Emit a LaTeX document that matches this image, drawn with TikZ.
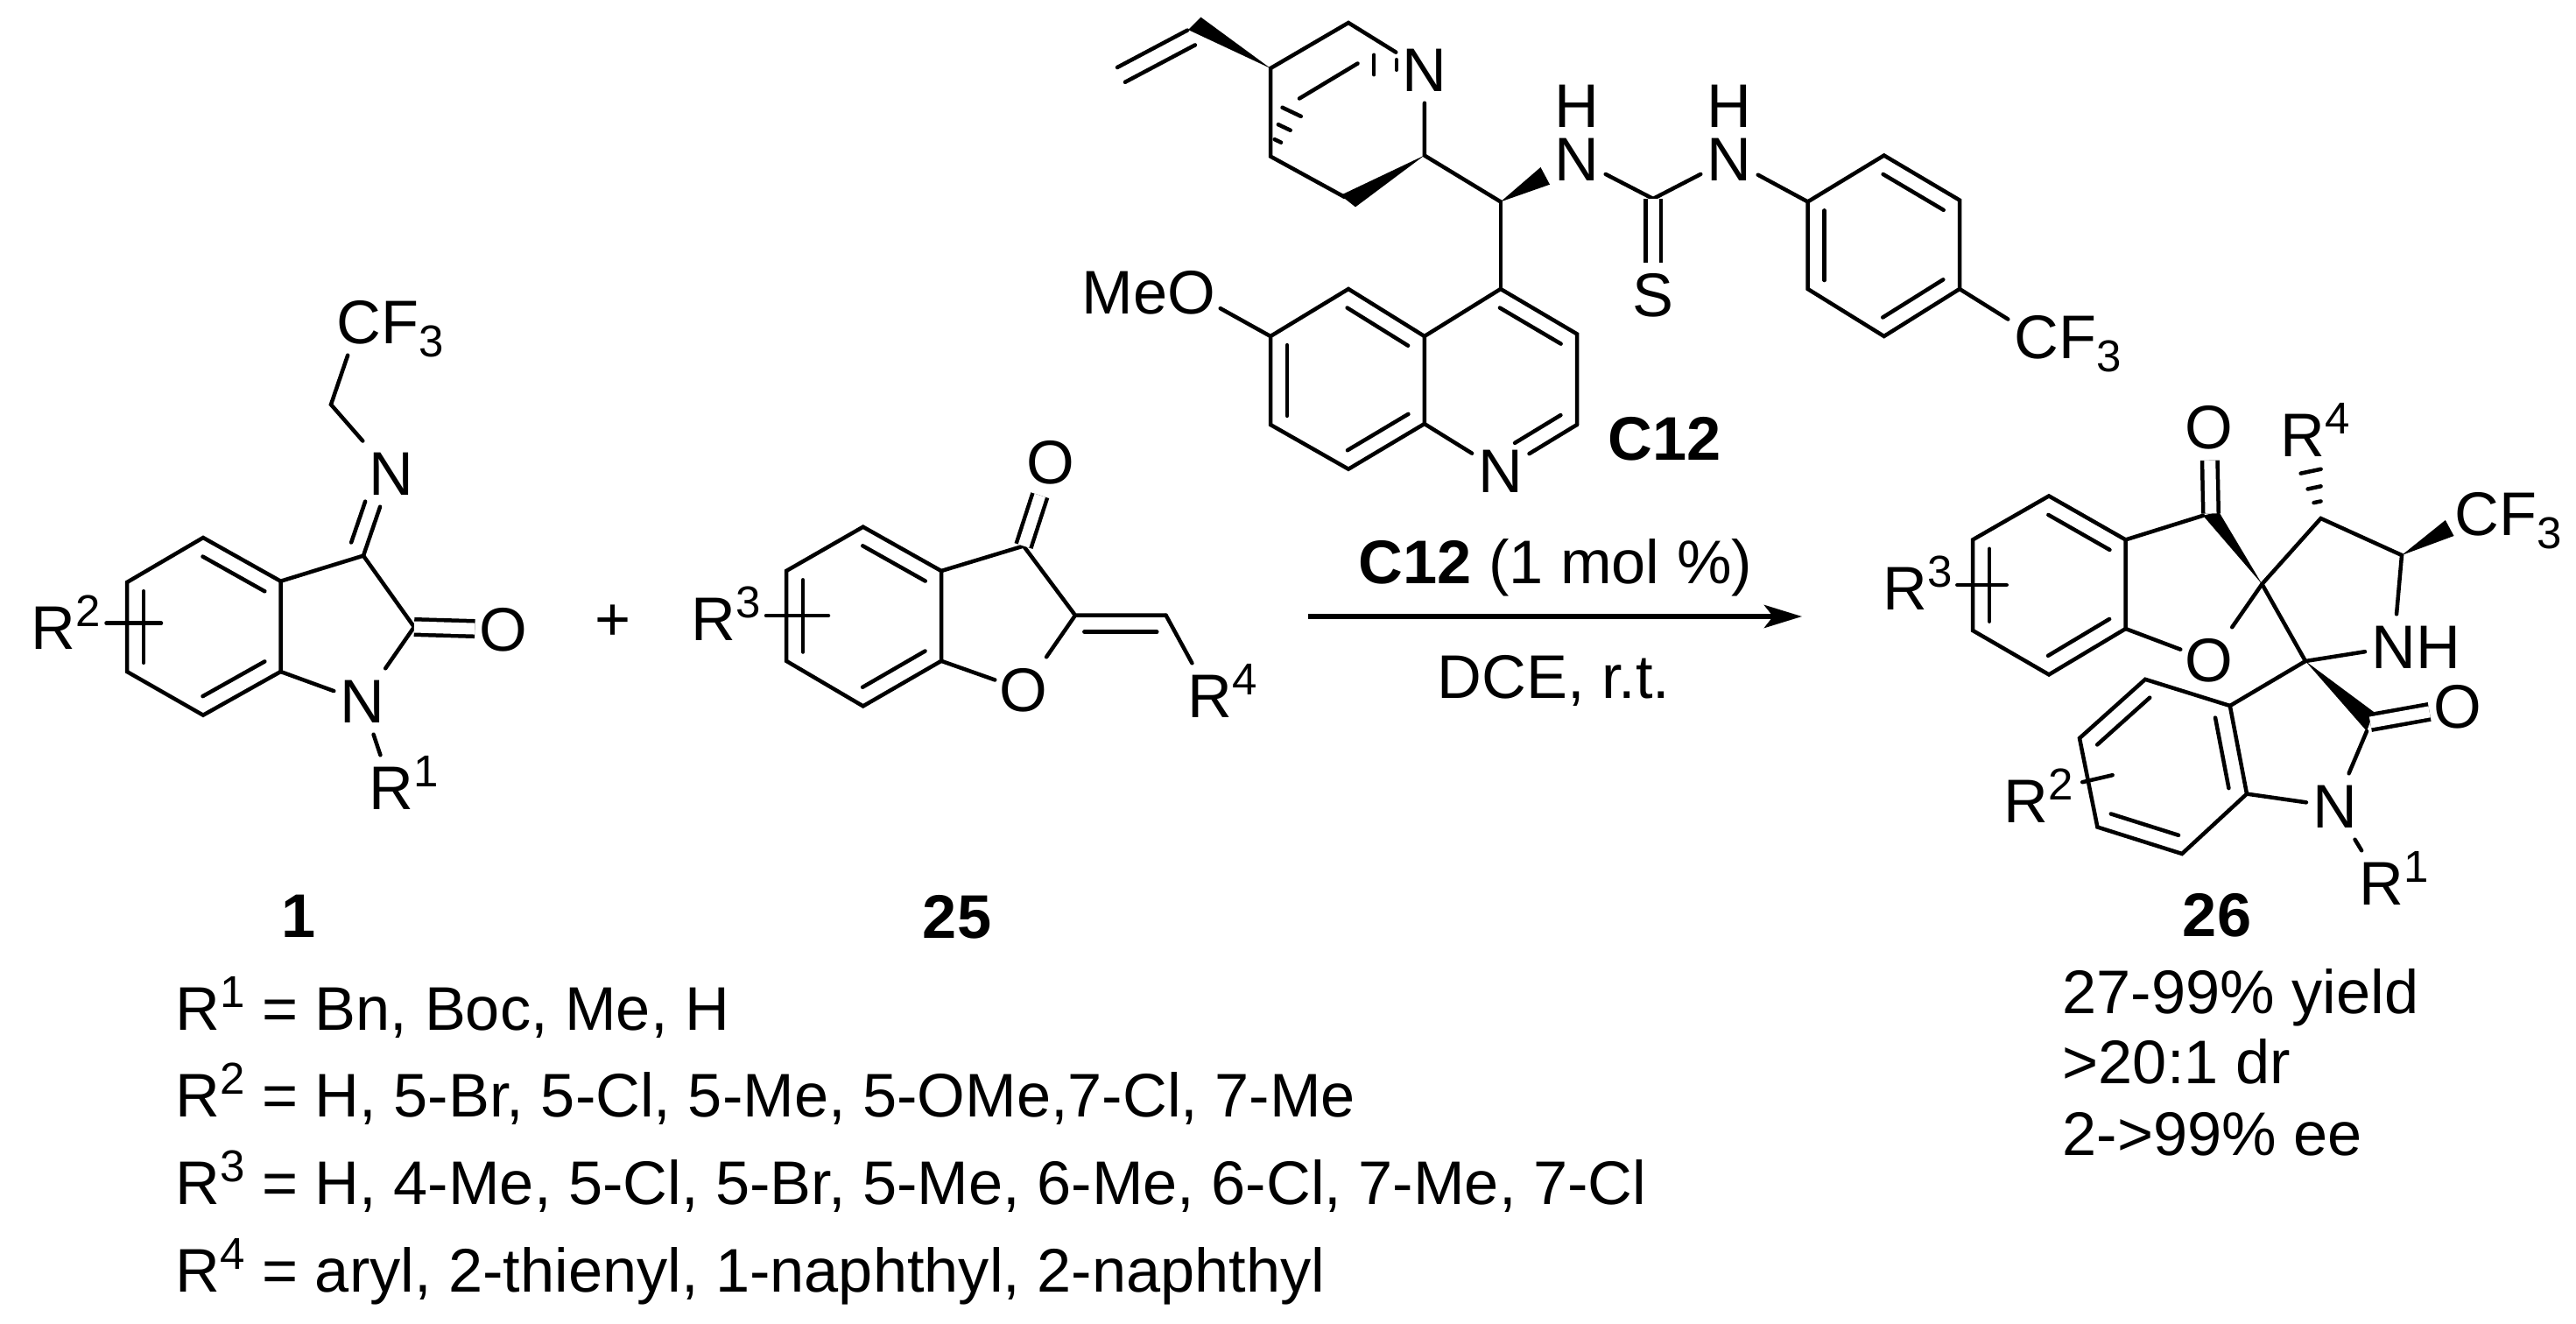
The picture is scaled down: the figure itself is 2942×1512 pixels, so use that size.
\documentclass[tikz,border=0pt]{standalone}
\usepackage{fontspec}
\setmainfont{Liberation Sans}
\usetikzlibrary{calc}
\usetikzlibrary{arrows.meta}
\newcommand{\supfont}{\fontsize{14.5}{16}\selectfont}
\newcommand{\rs}[1]{\smash{\raisebox{.26cm}{\supfont #1}}}
\newcommand{\Ra}[1]{R\rlap{\rs{#1}}}
\newcommand{\cfthree}{C\rlap{F\smash{\raisebox{-.15cm}{\supfont 3}}}}
\newcommand{\inbond}[5]{\draw[bond] ($(#1)!#4!(#2)!#3!90:(#2)$) -- ($(#2)!#5!(#1)!-#3!90:(#1)$);}
\newcommand{\ringbond}[2]{\inbond{#1}{#2}{.19cm}{.1}{.1}}
\newcommand{\hashbond}[3]{\foreach \f in {#3}{\pgfmathsetmacro{\w}{\f*.17}\draw[bond] ($(#1)!\f!(#2)!\w cm!90:(#2)$) -- ($(#1)!\f!(#2)!-\w cm!90:(#2)$);}}
\tikzset{
  bond/.style={line width=.045cm,line cap=round,line join=miter},
  dbond/.style={line width=.045cm,double,double distance=.13cm,line cap=butt},
  atom/.style={inner sep=0,minimum width=.64cm,minimum height=.74cm,font=\fontsize{20}{22}\selectfont},
  txt/.style={inner sep=0,anchor=base west,font=\fontsize{20}{22}\selectfont},
  cmpd/.style={inner sep=0,anchor=base,font=\fontsize{20}{22}\selectfont\bfseries},
  rxn/.style={line width=.06cm,-{Stealth[length=.43cm,width=.26cm,inset=.1cm]}}
}
\begin{document}
\begin{tikzpicture}[x=0.01cm,y=-0.01cm]
\useasboundingbox (0,0) rectangle (2942,1512);

\coordinate (iA) at (232,614);
\coordinate (iB) at (320.5,663.7);
\coordinate (iC) at (320.5,767);
\coordinate (iD) at (232,816.7);
\coordinate (iE) at (145,767);
\coordinate (iF) at (145,665);
\coordinate (iThree) at (415,634.6);
\coordinate (iTwo) at (473,716);
\coordinate (iCH) at (378,462);
\coordinate (iSubA) at (121.5,711.6);
\coordinate (iSubB) at (184,711.6);
\node[atom] (iN) at (414,801) {N};
\node[atom] (iO) at (575,719) {O};
\node[atom] (iIm) at (447,541) {N};
\node[atom] (iCF) at (410,368) {\cfthree};
\node[atom] (iRa) at (447,900) {\Ra{1}};
\node[atom] (iRb) at (61,717) {\Ra{2}};
\draw[bond] (iA) -- (iB) -- (iC) -- (iD) -- (iE) -- (iF) -- cycle;
\ringbond{iB}{iA}
\ringbond{iD}{iC}
\ringbond{iF}{iE}
\draw[bond] (iSubA) -- (iSubB);
\draw[bond] (iB) -- (iThree) -- (iTwo);
\draw[bond] (iTwo) -- (iN);
\draw[bond] (iC) -- (iN);
\draw[bond] (iN) -- (iRa);
\draw[dbond] (iTwo) -- (iO);
\draw[bond] (iThree) -- (iIm);
\inbond{iThree}{iIm}{.18cm}{.1}{.4}
\draw[bond] (iIm) -- (iCH) -- (iCF);
\node[cmpd] (cmpdOne) at (341,1070) {1};
\node[txt,anchor=center] (plus) at (700,711.5) {+};

\coordinate (bA) at (985.7,601.7);
\coordinate (bB) at (1075,652);
\coordinate (bC) at (1075,754.8);
\coordinate (bD) at (985.7,806.4);
\coordinate (bE) at (898,754.8);
\coordinate (bF) at (898,652);
\coordinate (bThree) at (1169,623.5);
\coordinate (bTwo) at (1228,702.7);
\coordinate (bCH) at (1331.6,702.7);
\coordinate (bSubA) at (875,703);
\coordinate (bSubB) at (946,703);
\node[atom] (bO) at (1169,788) {O};
\node[atom] (bK) at (1200,528) {O};
\node[atom] (bRd) at (1382,795) {\Ra{4}};
\node[atom] (bRc) at (815,707) {\Ra{3}};
\draw[bond] (bA) -- (bB) -- (bC) -- (bD) -- (bE) -- (bF) -- cycle;
\ringbond{bB}{bA}
\ringbond{bD}{bC}
\ringbond{bF}{bE}
\draw[bond] (bSubA) -- (bSubB);
\draw[bond] (bB) -- (bThree) -- (bTwo) -- (bCH);
\ringbond{bCH}{bTwo}
\draw[bond] (bTwo) -- (bO);
\draw[bond] (bC) -- (bO);
\draw[bond] (bCH) -- (bRd);
\draw[dbond] (bThree) -- (bK);
\node[cmpd] (cmpdTwo) at (1093,1071) {25};

\coordinate (qV) at (1451,78);
\coordinate (qT) at (1540,26);
\coordinate (qL) at (1451,178.6);
\coordinate (qW) at (1535.6,225);
\coordinate (qWa) at (1531,223);
\coordinate (qWb) at (1548,236.4);
\coordinate (qTwo) at (1626.8,177.5);
\coordinate (qX) at (1484,112.5);
\coordinate (qY) at (1550.5,72.5);
\coordinate (qH) at (1486,105);
\coordinate (qTip) at (1622,74);
\coordinate (qEnd) at (1542,74);
\coordinate (vA) at (1356,34.6);
\coordinate (vB) at (1276,77);
\coordinate (vWa) at (1371.4,19.6);
\coordinate (vWb) at (1357,34);
\coordinate (qCH) at (1713.8,230.4);
\coordinate (nWa) at (1759.5,191);
\coordinate (nWb) at (1770,210.7);
\coordinate (tC) at (1888,227);
\node[atom] (qN) at (1627,80) {N};
\node[atom,minimum height=.62cm] (tNa) at (1801,182) {N};
\node[txt,anchor=center] (tHa) at (1801,121) {H};
\node[atom,minimum height=.62cm] (tNb) at (1975,182) {N};
\node[txt,anchor=center] (tHb) at (1975,121) {H};
\node[atom] (tS) at (1888,337.5) {S};
\draw[bond] (vB) -- (vA);
\inbond{vA}{vB}{.19cm}{0}{0}
\fill (qV) -- (vWa) -- (vWb) -- cycle;
\draw[bond] (qN) -- (qT) -- (qV) -- (qL) -- (qW);
\fill (qTwo) -- (qWa) -- (qWb) -- cycle;
\draw[bond] (qX) -- (qY);
\hashbond{qL}{qH}{.24,.45,.69}
\hashbond{qTip}{qEnd}{.34,.66}
\draw[bond] (qN) -- (qTwo) -- (qCH);
\fill (qCH) -- (nWa) -- (nWb) -- cycle;
\draw[bond] (tNa) -- (tC) -- (tNb);
\draw[dbond] (tC) -- (tS);

\coordinate (yA) at (2151.7,177.5);
\coordinate (yB) at (2238,228.6);
\coordinate (yC) at (2238,330);
\coordinate (yD) at (2151.7,384);
\coordinate (yE) at (2064.6,330);
\coordinate (yF) at (2064.6,230.4);
\node[atom] (yCF) at (2326,385) {\cfthree};
\draw[bond] (yA) -- (yB) -- (yC) -- (yD) -- (yE) -- (yF) -- cycle;
\ringbond{yB}{yA}
\ringbond{yD}{yC}
\ringbond{yF}{yE}
\draw[bond] (tNb) -- (yF);
\draw[bond] (yC) -- (yCF);

\coordinate (kFour) at (1713.8,330);
\coordinate (kThree) at (1801,381.4);
\coordinate (kTwo) at (1801,485);
\coordinate (kEa) at (1626.8,484);
\coordinate (kFa) at (1626.8,384);
\coordinate (kFive) at (1540,330);
\coordinate (kSix) at (1451,384);
\coordinate (kSeven) at (1451,485);
\coordinate (kEight) at (1540,535.7);
\node[atom] (kN) at (1713.8,538) {N};
\node[atom] (kO) at (1361,334) {\llap{Me}O};
\draw[bond] (qCH) -- (kFour);
\draw[bond] (kFa) -- (kFive) -- (kSix) -- (kSeven) -- (kEight) -- (kEa) -- cycle;
\draw[bond] (kFa) -- (kFour) -- (kThree) -- (kTwo);
\draw[bond] (kTwo) -- (kN);
\draw[bond] (kEa) -- (kN);
\ringbond{kFa}{kFive}
\ringbond{kEight}{kEa}
\ringbond{kSix}{kSeven}
\ringbond{kThree}{kFour}
\inbond{kN}{kTwo}{.19cm}{.3}{.1}
\draw[bond] (kSix) -- (kO);
\node[cmpd] (catLabel) at (1901,525) {C12};

\node[txt] (catAmt) at (1551,666) {\textbf{C12} (1 mol \%)};
\coordinate (arrS) at (1493.5,704);
\coordinate (arrE) at (2058,704);
\draw[rxn] (arrS) -- (arrE);
\node[txt] (solvent) at (1641,797) {DCE, r.t.};

\coordinate (pA) at (2340,566.4);
\coordinate (pB) at (2427.6,616.4);
\coordinate (pC) at (2427.6,718);
\coordinate (pD) at (2340,770.4);
\coordinate (pE) at (2253,720);
\coordinate (pF) at (2253,616.4);
\coordinate (pSubA) at (2235.3,668);
\coordinate (pSubB) at (2291.7,668);
\coordinate (pK) at (2525,586.5);
\coordinate (pKa) at (2516,588.8);
\coordinate (pKb) at (2534,584.3);
\coordinate (sA) at (2583.4,667);
\coordinate (sB) at (2633,755);
\coordinate (pFour) at (2650.5,592);
\coordinate (pFive) at (2743,634);
\coordinate (pHash) at (2634,514);
\coordinate (fWa) at (2792.8,594);
\coordinate (fWb) at (2802.5,612);
\coordinate (oC) at (2707,825);
\coordinate (oWa) at (2711,813);
\coordinate (oWb) at (2703,835);
\coordinate (oTa) at (2546.8,806);
\coordinate (oFour) at (2450,775.8);
\coordinate (oFive) at (2375,843);
\coordinate (oSix) at (2395.4,944.5);
\coordinate (oSeven) at (2492,975);
\coordinate (oSa) at (2566,906.6);
\coordinate (oSubA) at (2378.2,893.2);
\coordinate (oSubB) at (2412.6,885.2);
\node[atom] (pO) at (2523,754) {O};
\node[atom] (pKO) at (2523,488) {O};
\node[atom] (pNH) at (2733.7,739) {N\rlap{H}};
\node[atom] (pCF) at (2829,587.4) {\cfthree};
\node[atom] (pRd) at (2630,497.6) {\Ra{4}};
\node[atom] (pRc) at (2176,672.7) {\Ra{3}};
\node[atom] (oO) at (2807.3,807) {O};
\node[atom] (oN) at (2666.6,921) {N};
\node[atom] (oRa) at (2720,1009) {\Ra{1}};
\node[atom] (oRb) at (2314,915.6) {\Ra{2}};
\draw[bond] (pA) -- (pB) -- (pC) -- (pD) -- (pE) -- (pF) -- cycle;
\ringbond{pB}{pA}
\ringbond{pD}{pC}
\ringbond{pF}{pE}
\draw[bond] (pSubA) -- (pSubB);
\draw[bond] (pB) -- (pKa);
\fill (sA) -- (pKa) -- (pKb) -- cycle;
\draw[dbond] (pK) -- (pKO);
\draw[bond] (pC) -- (pO);
\draw[bond] (sA) -- (pO);
\draw[bond] (sA) -- (sB);
\draw[bond] (sA) -- (pFour) -- (pFive);
\hashbond{pFour}{pHash}{.24,.45,.69}
\draw[bond] (pFive) -- (pNH);
\fill (pFive) -- (fWa) -- (fWb) -- cycle;
\draw[bond] (sB) -- (pNH);
\fill (sB) -- (oWa) -- (oWb) -- cycle;
\draw[dbond] (oC) -- (oO);
\draw[bond] (oWb) -- (oN);
\draw[bond] (oN) -- (oRa);
\draw[bond] (oSa) -- (oN);
\draw[bond] (sB) -- (oTa);
\draw[bond] (oTa) -- (oFour) -- (oFive) -- (oSix) -- (oSeven) -- (oSa) -- cycle;
\ringbond{oSa}{oTa}
\ringbond{oFour}{oFive}
\ringbond{oSix}{oSeven}
\draw[bond] (oSubA) -- (oSubB);
\node[cmpd] (cmpdThree) at (2532,1069.6) {26};
\node[txt] (yieldRow) at (2355,1157) {27-99\% yield};
\node[txt] (drRow) at (2355,1237) {>20:1 dr};
\node[txt] (eeRow) at (2355,1319) {2->99\% ee};

\node[txt] (rowOne) at (200,1176) {R\rs{1} = Bn, Boc, Me, H};
\node[txt] (rowTwo) at (200,1275) {R\rs{2} = H, 5-Br, 5-Cl, 5-Me, 5-OMe,7-Cl, 7-Me};
\node[txt] (rowThree) at (200,1375) {R\rs{3} = H, 4-Me, 5-Cl, 5-Br, 5-Me, 6-Me, 6-Cl, 7-Me, 7-Cl};
\node[txt] (rowFour) at (200,1475) {R\rs{4} = aryl, 2-thienyl, 1-naphthyl, 2-naphthyl};
\end{tikzpicture}
\end{document}
